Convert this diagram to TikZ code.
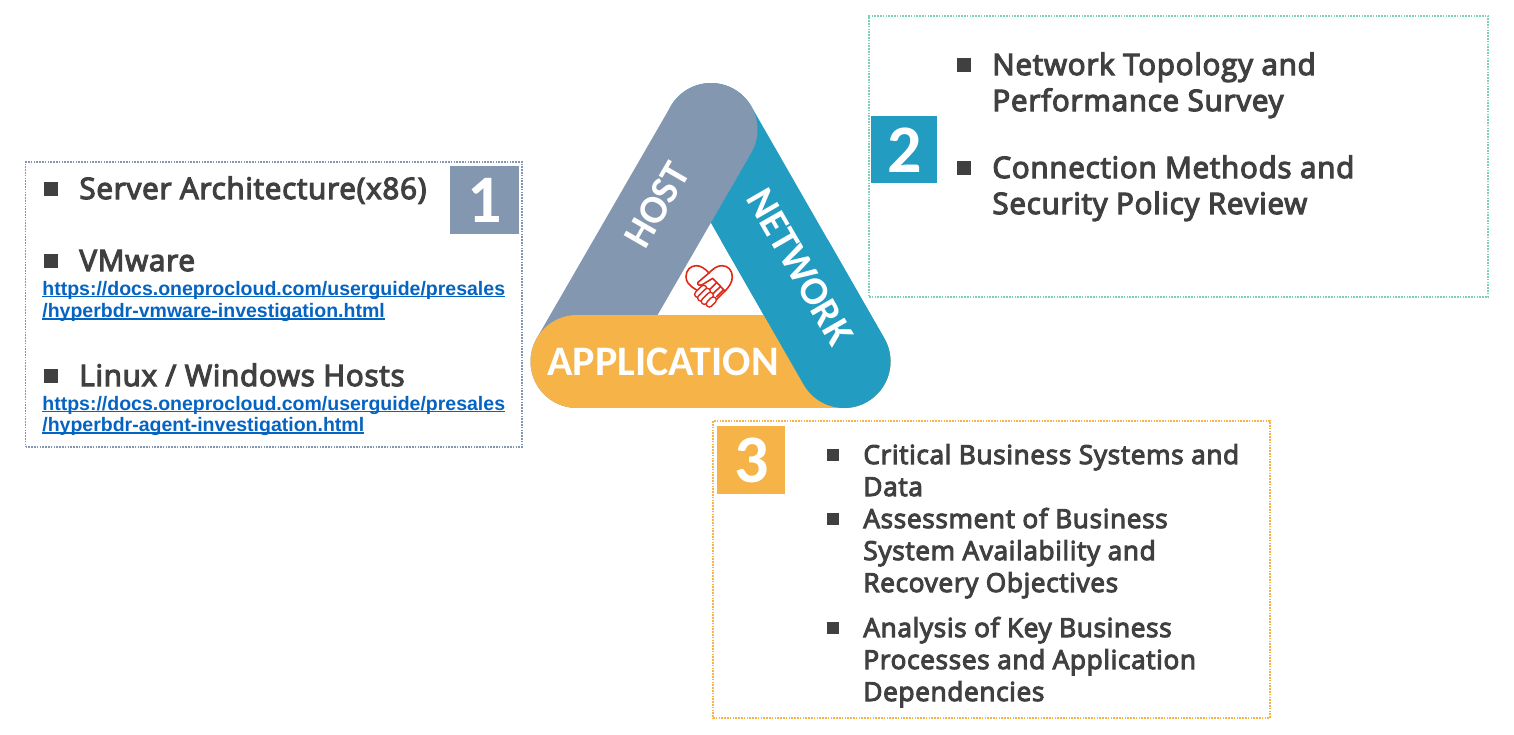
\documentclass[tikz,border=0pt]{standalone}
\usepackage{fontspec}
\setmainfont{Open Sans}
\newfontfamily\bodyfont[RawFeature={embolden=4}, LetterSpace=2.5]{Open Sans}
\newfontfamily\badgefont{Carlito}
\newfontfamily\linkfont{Liberation Sans}
\definecolor{slateblue}{RGB}{132, 151, 176}
\definecolor{cerulean}{RGB}{34, 157, 193}
\definecolor{sunflower}{RGB}{246, 179, 72}
\definecolor{seafoam}{RGB}{125, 208, 182}
\definecolor{inktext}{RGB}{64, 64, 64}
\definecolor{linkblue}{RGB}{5, 99, 193}
\definecolor{heartred}{RGB}{222, 40, 24}
\newsavebox\linkbox
\newcommand{\linktext}[1]{\sbox\linkbox{#1}\usebox\linkbox\llap{\rule[-1.2pt]{\wd\linkbox}{0.9pt}}}
\tikzset{
    panel/.style     = {draw, line width=0.9pt, dash pattern=on 0.8pt off 0.6pt, inner sep=0pt, outer sep=0pt, anchor=north west},
    badge/.style     = {inner sep=0pt, anchor=north west, text=white, font=\badgefont\bfseries\fontsize{34}{34}\selectfont},
    item/.style      = {anchor=base west, inner sep=0pt, text=inktext, font=\bodyfont\fontsize{14.8}{14.8}\selectfont},
    smallitem/.style = {anchor=base west, inner sep=0pt, text=inktext, font=\bodyfont\fontsize{13.1}{13.1}\selectfont},
    link/.style      = {anchor=base west, inner sep=0pt, text=linkblue, font=\linkfont\bfseries\fontsize{9.75}{9.75}\selectfont},
    squaremark/.style= {fill=inktext, inner sep=0pt, minimum size=7pt, anchor=north west},
    band/.style      = {line width=46.5pt, line cap=round},
    bandlabel/.style = {text=white, inner sep=0pt, font=\badgefont\fontsize{21}{21}\selectfont},
    heartline/.style = {draw=heartred, line width=0.8pt, line cap=round, line join=round}
}
\begin{document}
\begin{tikzpicture}[x=0.5pt, y=-0.5pt]
    \useasboundingbox (0,0) rectangle (1514,734);
    % panels
    \node[panel, draw=slateblue, minimum width=248.25pt, minimum height=142.5pt] (hostpanel)    at (25.5,162) {};
    \node[panel, draw=seafoam,   minimum width=309.5pt,  minimum height=140.5pt] (networkpanel) at (869,16)   {};
    \node[panel, draw=sunflower, minimum width=278.5pt,  minimum height=148.5pt] (apppanel)     at (713,421)  {};
    % badges
    \node[badge, fill=slateblue, minimum width=34.5pt, minimum height=34pt]   (hostbadge)    at (450,166) {1};
    \node[badge, fill=cerulean,  minimum width=33pt,   minimum height=33.5pt] (networkbadge) at (871,116) {2};
    \node[badge, fill=sunflower, minimum width=34pt,   minimum height=34pt]   (appbadge)     at (717,426) {3};
    % triangle
    \coordinate (apexleft)  at (577,361.5);
    \coordinate (apexright) at (844,361.5);
    \coordinate (apextop)   at (711,129.5);
    \draw[band, cerulean]  (apextop)  -- (apexright);
    \draw[band, slateblue] (apexleft) -- (apextop);
    \draw[band, sunflower] (apexleft) -- (apexright);
    \begin{scope}
        \clip (700,240) rectangle (900,420);
        \draw[band, cerulean] (apextop) -- (apexright);
    \end{scope}
    \node[bandlabel, font=\badgefont\fontsize{20}{20}\selectfont, rotate=60]  (hostlabel)    at (657,205)   {\bfseries HOST};
    \node[bandlabel, font=\badgefont\fontsize{20}{20}\selectfont, rotate=-60] (networklabel) at (800,267)   {\bfseries NETWORK};
    \node[bandlabel]             (applabel)     at (663,361.5) {\bfseries APPLICATION};
    % heart
    \begin{scope}[shift={(670,250)}, x=0.5pt/3, y=-0.5pt/3]
        \draw[heartline] (80,120) .. controls (56,106) and (48,95) .. (48,80) .. controls (48,60) and (62,47) .. (79,47) .. controls (92,47) and (104,55) .. (117,69);
        \draw[heartline] (84,97) -- (118,68) .. controls (130,55) and (143,47) .. (156,47) .. controls (175,47) and (187,62) .. (187,81) .. controls (187,98) and (175,113) .. (165,123) -- (130,158);
        \draw[heartline] (84,97) .. controls (80,104) and (88,108) .. (97,104) -- (128,85) -- (165,123);
        \draw[heartline] (152,109) -- (130,130);
        \draw[heartline] (141,97) -- (120,118);
        \draw[heartline] (160,120) -- (140,140);
        \foreach \fx/\fy/\fl in {92/124/9, 102/134/10, 112/145/9, 124/156/6} {
            \draw[heartline, double=white, double distance=2.2pt] (\fx-\fl,\fy+\fl) -- (\fx+\fl,\fy-\fl);
        }
    \end{scope}
    % host text
    \node[squaremark] (hostmarka) at (44,182) {};
    \node[item]       (hostitema) at (79,199)   {Server Architecture(x86)};
    \node[squaremark] (hostmarkb) at (44,254) {};
    \node[item]       (hostitemb) at (79,271)   {VMware};
    \node[link]       (hostlinka) at (42,295)   {\linktext{https://docs.oneprocloud.com/userguide/presales}};
    \node[link]       (hostlinkb) at (42,317.5) {\linktext{/hyperbdr-vmware-investigation.html}};
    \node[squaremark] (hostmarkc) at (44,369) {};
    \node[item]       (hostitemc) at (79,386)   {Linux / Windows Hosts};
    \node[link]       (hostlinkc) at (42,410)   {\linktext{https://docs.oneprocloud.com/userguide/presales}};
    \node[link]       (hostlinkd) at (42,431.5) {\linktext{/hyperbdr-agent-investigation.html}};
    % network text
    \node[squaremark] (netmarka) at (957,58)  {};
    \node[item]       (netitema) at (992,75)  {Network Topology and};
    \node[item]       (netitemb) at (992,111) {Performance Survey};
    \node[squaremark] (netmarkb) at (957,161) {};
    \node[item]       (netitemc) at (992,178) {Connection Methods and};
    \node[item]       (netitemd) at (992,214) {Security Policy Review};
    % application text
    \node[squaremark, minimum size=6pt] (appmarka) at (827,449) {};
    \node[smallitem] (appitema) at (863,464) {Critical Business Systems and};
    \node[smallitem] (appitemb) at (863,496) {Data};
    \node[squaremark, minimum size=6pt] (appmarkb) at (827,513) {};
    \node[smallitem] (appitemc) at (863,528) {Assessment of Business};
    \node[smallitem] (appitemd) at (863,560) {System Availability and};
    \node[smallitem] (appiteme) at (863,592) {Recovery Objectives};
    \node[squaremark, minimum size=6pt] (appmarkc) at (827,622) {};
    \node[smallitem] (appitemf) at (863,637) {Analysis of Key Business};
    \node[smallitem] (appitemg) at (863,669) {Processes and Application};
    \node[smallitem] (appitemh) at (863,701) {Dependencies};
\end{tikzpicture}
\end{document}
